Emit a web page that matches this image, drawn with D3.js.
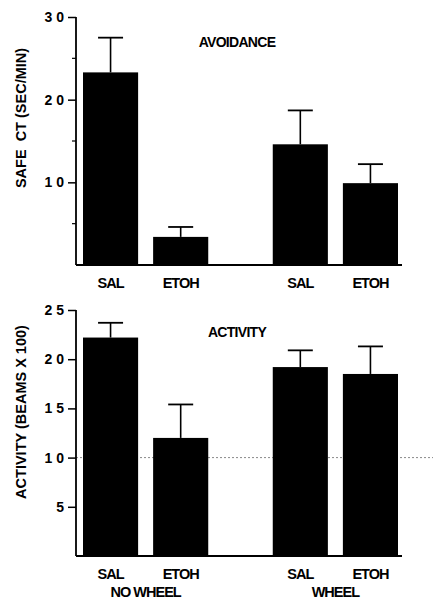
<!DOCTYPE html>
<html>
<head>
<meta charset="utf-8">
<script src="https://cdn.jsdelivr.net/npm/d3@7"></script>
<style>
  body { margin: 0; background: #fff; }
  text { font-family: "Liberation Sans", Arial, sans-serif; fill: #000; }
</style>
</head>
<body>
<div id="chart"></div>
<script>
var svgWidth = 433;
var svgHeight = 601;

// data
var groups = ["NO WHEEL", "WHEEL"];
var treatments = ["SAL", "ETOH"];
var avoidMeans = [23.3, 3.4, 14.6, 9.9];
var avoidErr = [4.2, 1.2, 4.1, 2.3];
var activityMeans = [22.2, 12.0, 19.2, 18.5];
var activityErr = [1.5, 3.4, 1.7, 2.8];
var avoidTicks = [10, 20, 30];
var avoidMinor = [5, 15, 25];
var activityTicks = [5, 10, 15, 20, 25];

var svg = d3.select("#chart")
  .append("svg")
  .attr("width", svgWidth)
  .attr("height", svgHeight);

// x scales shared by both panels
var xGroup = d3.scaleBand()
  .domain(groups)
  .range([83, 398])
  .paddingInner(0.34)
  .paddingOuter(0);

var xTreat = d3.scaleBand()
  .domain(treatments)
  .range([0, xGroup.bandwidth()])
  .paddingInner(0.214)
  .paddingOuter(0);

function rows(means, errs) {
  var out = [];
  groups.forEach(function(g, gi) {
    treatments.forEach(function(t, ti) {
      var i = gi * 2 + ti;
      out.push({group: g, treat: t, mean: means[i], err: errs[i]});
    });
  });
  return out;
}

function drawPanel(opt) {
  var y = d3.scaleLinear().domain([0, opt.max]).range([opt.y0, opt.y1]);
  var g = svg.append("g");
  var axisX = 76;

  // faint scan-like dotted line
  if (opt.gridAt != null) {
    g.append("line")
      .attr("x1", axisX).attr("x2", svgWidth)
      .attr("y1", y(opt.gridAt)).attr("y2", y(opt.gridAt))
      .attr("stroke", "#888").attr("stroke-width", 1)
      .attr("stroke-dasharray", "2,2");
  }

  var yAxis = d3.axisLeft(y)
    .tickValues(opt.ticks)
    .tickSize(8)
    .tickPadding(4)
    .tickFormat(function(d) { return String(d).split("").join(" "); });

  var ax = g.append("g")
    .attr("transform", "translate(" + axisX + ",0)")
    .call(yAxis);
  ax.select(".domain").remove();
  ax.selectAll(".tick line").attr("stroke", "#000").attr("stroke-width", 1.5);
  ax.selectAll(".tick text")
    .attr("font-size", "14px")
    .attr("font-weight", "bold")
    .style("white-space", "pre");

  g.append("line")
    .attr("x1", axisX).attr("x2", axisX)
    .attr("y1", y(opt.max)).attr("y2", y(0))
    .attr("stroke", "#000").attr("stroke-width", 1.8);

  if (opt.minor) {
    g.selectAll(".minor").data(opt.minor).enter().append("line")
      .attr("x1", axisX - 4).attr("x2", axisX)
      .attr("y1", function(d) { return y(d); })
      .attr("y2", function(d) { return y(d); })
      .attr("stroke", "#000").attr("stroke-width", 1.2);
  }

  var data = rows(opt.means, opt.errs);
  var bx = function(d) { return xGroup(d.group) + xTreat(d.treat); };

  g.selectAll(".bar").data(data).enter().append("rect")
    .attr("x", bx)
    .attr("y", function(d) { return y(d.mean); })
    .attr("width", xTreat.bandwidth())
    .attr("height", function(d) { return y(0) - y(d.mean); })
    .attr("fill", "#000");

  var cap = 25;
  g.selectAll(".err").data(data).enter().append("line")
    .attr("x1", function(d) { return bx(d) + xTreat.bandwidth() / 2; })
    .attr("x2", function(d) { return bx(d) + xTreat.bandwidth() / 2; })
    .attr("y1", function(d) { return y(d.mean); })
    .attr("y2", function(d) { return y(d.mean + d.err); })
    .attr("stroke", "#000").attr("stroke-width", 1.6);
  g.selectAll(".cap").data(data).enter().append("line")
    .attr("x1", function(d) { return bx(d) + xTreat.bandwidth() / 2 - cap / 2; })
    .attr("x2", function(d) { return bx(d) + xTreat.bandwidth() / 2 + cap / 2; })
    .attr("y1", function(d) { return y(d.mean + d.err); })
    .attr("y2", function(d) { return y(d.mean + d.err); })
    .attr("stroke", "#000").attr("stroke-width", 1.8);

  // baseline
  g.append("line")
    .attr("x1", axisX).attr("x2", 402)
    .attr("y1", y(0)).attr("y2", y(0))
    .attr("stroke", "#000").attr("stroke-width", 1.8);

  // category labels
  g.selectAll(".cat").data(data).enter().append("text")
    .attr("x", function(d) { return bx(d) + xTreat.bandwidth() / 2; })
    .attr("y", y(0) + 23)
    .attr("text-anchor", "middle")
    .attr("font-size", "14.5px")
    .attr("font-weight", "bold")
    .attr("letter-spacing", "-1px")
    .text(function(d) { return d.treat; });

  // panel title
  g.append("text")
    .attr("x", 237).attr("y", opt.titleY)
    .attr("text-anchor", "middle")
    .attr("font-size", "14px")
    .attr("font-weight", "bold")
    .attr("letter-spacing", "-0.7px")
    .text(opt.title);

  // y label
  g.append("text")
    .attr("transform", "translate(26," + opt.labelY + ") rotate(-90)")
    .attr("text-anchor", "middle")
    .attr("font-size", "14.5px")
    .attr("font-weight", "bold")
    .attr("letter-spacing", "0px")
    .style("white-space", "pre")
    .text(opt.ylabel);

  return y;
}

drawPanel({
  max: 30, y0: 265, y1: 17,
  ticks: avoidTicks, minor: avoidMinor,
  means: avoidMeans, errs: avoidErr,
  title: "AVOIDANCE", titleY: 47,
  ylabel: "SAFE  CT (SEC/MIN)", labelY: 118,
  gridAt: null
});

drawPanel({
  max: 25, y0: 556, y1: 310,
  ticks: activityTicks, minor: null,
  means: activityMeans, errs: activityErr,
  title: "ACTIVITY", titleY: 337,
  ylabel: "ACTIVITY (BEAMS X 100)", labelY: 412,
  gridAt: 10
});

// group labels under the bottom panel
svg.selectAll(".grp").data(groups).enter().append("text")
  .attr("x", function(d) { return xGroup(d) + xGroup.bandwidth() / 2; })
  .attr("y", 597)
  .attr("text-anchor", "middle")
  .attr("font-size", "14.5px")
  .attr("font-weight", "bold")
  .attr("letter-spacing", "-1px")
  .text(function(d) { return d; });
</script>
</body>
</html>
